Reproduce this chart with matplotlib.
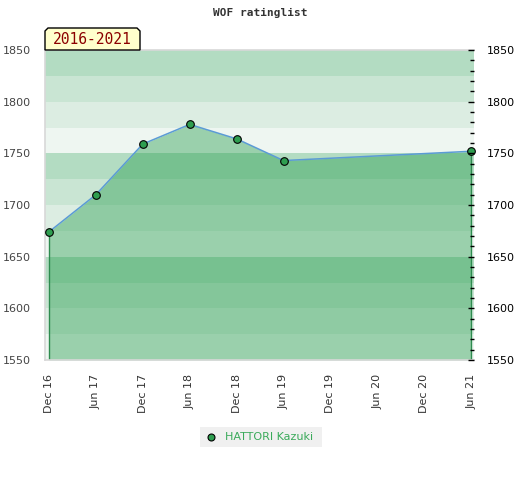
import matplotlib
matplotlib.use("Agg")
import matplotlib.pyplot as plt
from matplotlib.patches import Polygon, Rectangle
from matplotlib.ticker import MultipleLocator

# tick labels along the bottom (one every half year)
tick_labels = ["Dec 16", "Jun 17", "Dec 17", "Jun 18", "Dec 18",
               "Jun 19", "Dec 19", "Jun 20", "Dec 20", "Jun 21"]
# rating points: position in half years from Dec 16, and rating
point_pos = [0, 1, 2, 3, 4, 5, 9]
ratings = [1674, 1710, 1759, 1778, 1764, 1743, 1752]
player = "HATTORI Kazuki"
period = "2016-2021"

W, H = 520, 480
fig = plt.figure(figsize=(W / 100, H / 100), dpi=100)
fig.patch.set_facecolor("white")


def px(x, y):
    # pixel coords (from top left) -> figure fraction
    return x / W, 1 - y / H


left, right, top, bottom = 45, 474, 50, 360
ax = fig.add_axes([left / W, 1 - bottom / H, (right - left) / W, (bottom - top) / H])
ymin, ymax = 1550, 1850
ax.set_ylim(ymin, ymax)
ax.set_xlim(-0.085, 9.06)

# background stripes, 25 points each, pattern repeats every 100
band_cols = ["#eef6f1", "#dcede2", "#c9e5d3", "#b3dcc2"]
for i, b in enumerate(range(ymin, ymax, 25)):
    ax.axhspan(b, b + 25, color=band_cols[i % 4], lw=0, zorder=0)

ax.fill_between(point_pos, ratings, ymin, color="#229b4a", alpha=0.41, lw=0, zorder=1)
ax.plot([point_pos[0]] * 2, [ymin, ratings[0]], color="#2e8b4f", lw=1, zorder=2)
ax.plot([point_pos[-1]] * 2, [ymin, ratings[-1]], color="#2e8b4f", lw=1, zorder=2)
ax.plot(point_pos, ratings, color="#5b9bd5", lw=1.1, zorder=3)
ax.plot(point_pos, ratings, ls="none", marker="o", ms=5.5, mfc="#2e9e50",
        mec="black", mew=0.8, zorder=4, clip_on=False)

ax.set_xticks(range(len(tick_labels)))
ax.set_xticklabels(tick_labels, rotation=90, fontsize=8, color="#333333")
ax.tick_params(axis="x", length=0, pad=10)
ax.yaxis.set_major_locator(MultipleLocator(50))
ax.tick_params(axis="y", length=0, labelsize=8, labelcolor="#444444", pad=10)
for s in ["right"]:
    ax.spines[s].set_visible(False)
for s in ["left", "bottom", "top"]:
    ax.spines[s].set_color("#d8d8d8")
    ax.spines[s].set_linewidth(1.2)

# right axis with small ticks
ax2 = ax.twinx()
ax2.set_ylim(ymin, ymax)
ax2.yaxis.set_major_locator(MultipleLocator(50))
ax2.yaxis.set_minor_locator(MultipleLocator(10))
ax2.tick_params(axis="y", which="major", direction="in", length=4, width=1,
                labelsize=8, labelcolor="black", pad=9)
ax2.tick_params(axis="y", which="minor", direction="in", length=3, width=1)
for s in ax2.spines.values():
    s.set_visible(False)

fig.text(0.5, 1 - 13 / H, "WOF ratinglist", ha="center", va="center",
         family="DejaVu Sans Mono", fontweight="bold", fontsize=8, color="#333333")

# period tag, box with cut top corners
bl, br, bt, bb, c = 45, 140, 28, 50, 3
pts = [px(bl, bb), px(bl, bt + c), px(bl + c, bt), px(br - c, bt), px(br, bt + c), px(br, bb)]
fig.patches.append(Polygon(pts, closed=True, transform=fig.transFigure, fc="#ffffcc",
                           ec="black", lw=1, zorder=5))
fig.text(*px((bl + br) / 2, 40), period, ha="center", va="center",
         family="DejaVu Sans Mono", fontsize=10.5, color="#8b0000", zorder=6)

# legend
lx0, ly0 = px(200, 447)
fig.patches.append(Rectangle((lx0, ly0), 122 / W, 20 / H, transform=fig.transFigure,
                             fc="#f0f0f0", ec="none"))
fig.lines.append(plt.Line2D([211 / W], [1 - 437 / H], transform=fig.transFigure,
                            marker="o", ms=5, mfc="#2e9e50", mec="black", mew=0.8))
fig.text(225 / W, 1 - 437 / H, player, ha="left", va="center", fontsize=8, color="#3aaa5a")

fig.savefig("out.png", dpi=100)
